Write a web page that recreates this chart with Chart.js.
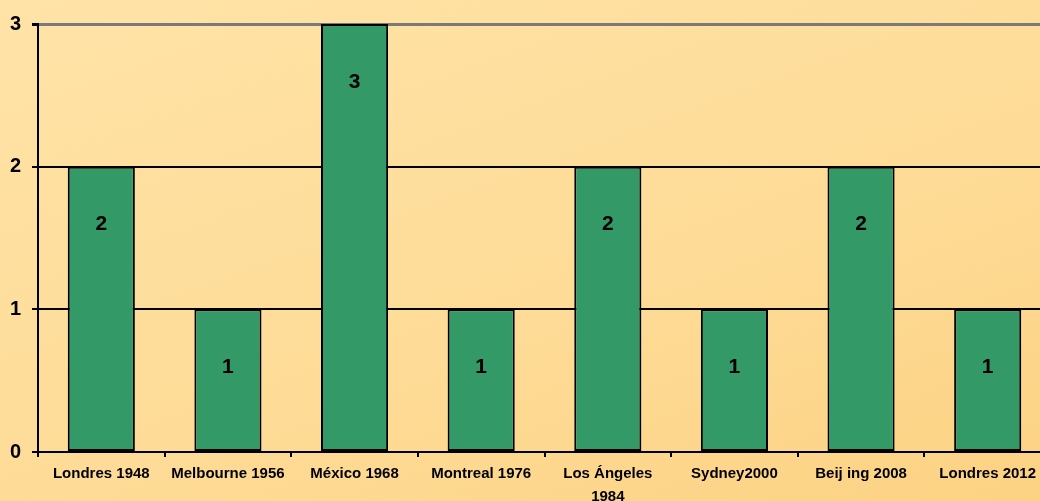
<!DOCTYPE html>
<html>
<head>
<meta charset="utf-8">
<script src="https://cdn.jsdelivr.net/npm/chart.js@4/dist/chart.umd.min.js"></script>
<style>
html,body{margin:0;padding:0;width:1040px;height:501px;overflow:hidden;
background:linear-gradient(160deg,#FFE3A7 0%,#FEDC98 55%,#FCD283 100%);}
#wrap{position:absolute;left:0;top:0;width:1052px;height:501px;}
</style>
</head>
<body>
<div id="wrap"><canvas id="c" width="1052" height="501"></canvas></div>
<script>
const categories = ['Londres 1948','Melbourne 1956','México 1968','Montreal 1976',['Los Ángeles','1984'],'Sydney2000','Beij ing 2008','Londres 2012'];
const values = [2,1,3,1,2,1,2,1];
const yTicks = [0,1,2,3];

const FONT = '"Liberation Sans", Arial, sans-serif';

const valueLabels = {
  id:'valueLabels',
  afterDatasetsDraw(chart){
    const ctx = chart.ctx;
    const meta = chart.getDatasetMeta(0);
    ctx.save();
    ctx.font = 'bold 21px ' + FONT;
    ctx.fillStyle = '#000';
    ctx.textAlign = 'center';
    ctx.textBaseline = 'middle';
    meta.data.forEach((bar,i)=>{
      ctx.fillText(String(values[i]), bar.x, bar.y + 58);
    });
    ctx.restore();
  }
};

new Chart(document.getElementById('c'), {
  type:'bar',
  data:{
    labels:categories,
    datasets:[{
      data:values,
      backgroundColor:'#339966',
      borderColor:'#000',
      borderWidth:2,
      borderSkipped:false,
      barPercentage:0.53,
      categoryPercentage:1
    }]
  },
  options:{
    responsive:false,
    animation:false,
    events:[],
    layout:{padding:{top:24,right:1,left:0,bottom:0}},
    plugins:{legend:{display:false},tooltip:{enabled:false}},
    scales:{
      x:{
        grid:{display:true,drawOnChartArea:false,color:'#000',lineWidth:2,tickLength:5,offset:true},
        border:{display:true,color:'#000',width:2},
        ticks:{color:'#000',font:{family:FONT,size:15,weight:'bold',lineHeight:1.5},padding:6,maxRotation:0,autoSkip:false},
        afterFit(s){s.height=49;}
      },
      y:{
        min:0,max:3,
        afterBuildTicks(s){s.ticks = yTicks.map(v=>({value:v}));},
        grid:{
          color:(c)=> c.tick && c.tick.value===3 ? '#7a7a7a' : '#000',
          lineWidth:(c)=> c.tick && c.tick.value===3 ? 3 : 2,
          tickColor:'#000',
          tickLength:6
        },
        border:{display:true,color:'#000',width:2},
        ticks:{color:'#000',font:{family:FONT,size:20,weight:'bold'},padding:11},
        afterFit(s){s.width=38;}
      }
    }
  },
  plugins:[valueLabels]
});
</script>
</body>
</html>
